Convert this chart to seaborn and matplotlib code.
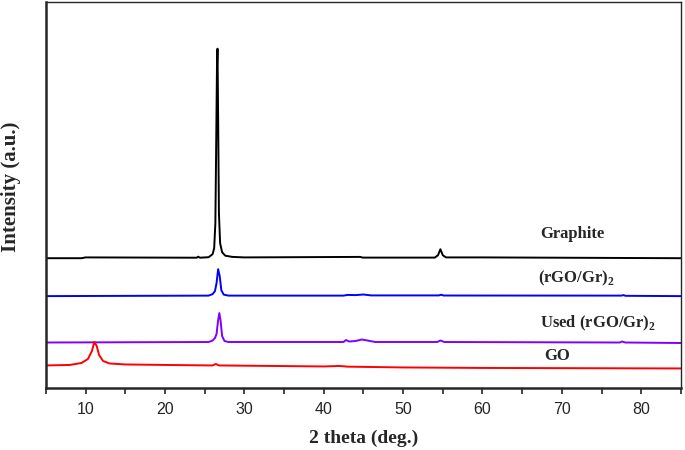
import pandas as pd
import numpy as np
import matplotlib
matplotlib.use("Agg")
import matplotlib.pyplot as plt
import seaborn as sns
from matplotlib.ticker import MultipleLocator

# XRD traces, points (intensity already stacked, arb. units)
graphite_x = [5, 9.5, 10, 24, 24.2, 24.4, 25.5, 26.0, 26.2, 26.35, 26.45, 26.55, 26.62,
              26.7, 26.8, 26.95, 27.2, 27.6, 28.5, 30, 44.6, 44.9, 54.0, 54.4, 54.7,
              55.0, 55.4, 60, 85]
graphite_y = [130, 130, 130.8, 130.5, 131.5, 130.5, 131, 134, 140, 165, 240, 320, 340,
              270, 175, 145, 136, 132.5, 131.3, 130.8, 131.3, 130.6, 130.6, 133, 139,
              133, 130.8, 130.8, 130]

blue_x = [5, 25.5, 26.0, 26.3, 26.5, 26.7, 26.9, 27.1, 27.4, 28, 42.5, 43, 44, 45, 46,
          54.5, 54.8, 55.1, 77.5, 77.8, 78, 85]
blue_y = [92, 92.5, 94, 97, 105, 119, 112, 98, 93.5, 92.5, 92.5, 93.2, 93, 93.6, 92.7,
          92.7, 93.4, 92.6, 92.5, 93, 92.3, 92]

used_x = [5, 25.5, 26.0, 26.3, 26.5, 26.7, 26.85, 27.0, 27.2, 27.5, 28, 42.5, 42.8,
          43.2, 44, 44.8, 45.5, 46.5, 54.3, 54.7, 55.2, 77.3, 77.6, 78, 85]
used_y = [45.5, 46, 47.5, 50, 54, 68, 75, 68, 52, 47, 46, 46, 48, 46.5, 47, 48.5, 47.5,
          46, 46, 47.5, 46, 45.5, 46.5, 45.5, 45]

go_x = [5, 8, 9.5, 10.3, 10.8, 11.1, 11.4, 11.7, 12.2, 13, 15, 20, 26, 26.4, 26.8, 40,
        42, 43, 50, 60, 85]
go_y = [22.5, 23, 25, 29, 37, 46, 42, 33, 27, 24.5, 23.5, 23, 22.5, 24, 22.5, 21.5, 22,
        21.3, 20.5, 20, 19.5]

names = ["Graphite", "(rGO/Gr)$_\\mathbf{2}$", "Used (rGO/Gr)$_\\mathbf{2}$", "GO"]
colors = ["#000000", "#0000ff", "#8000ff", "#ff0000"]
label_x = [71.3, 71.8, 74.6, 69.4]
label_y = [154, 110, 65, 32]

sns.set_style("ticks")
plt.rcParams["font.family"] = ["Liberation Sans", "DejaVu Sans"]
plt.rcParams["mathtext.fontset"] = "custom"
plt.rcParams["mathtext.bf"] = "Liberation Serif:bold"
plt.rcParams["mathtext.rm"] = "Liberation Serif"

fig = plt.figure(figsize=(6.85, 4.5), dpi=100)
ax = fig.add_axes([0.067, 0.138, 0.927, 0.858])

traces = [(graphite_x, graphite_y), (blue_x, blue_y), (used_x, used_y), (go_x, go_y)]
for (xs, ys), c in zip(traces, colors):
    sns.lineplot(x=xs, y=ys, color=c, linewidth=1.4, ax=ax, sort=False)

for name, lx, ly in zip(names, label_x, label_y):
    ax.text(lx, ly, name, ha="center", va="center", fontsize=12,
            fontweight="bold", family="Liberation Serif")

ax.set_xlim(5, 85)
ax.set_ylim(0, 387)
ax.xaxis.set_major_locator(MultipleLocator(10))
ax.xaxis.set_minor_locator(MultipleLocator(5))
ax.set_yticks([])
ax.tick_params(axis="x", which="both", direction="out", length=4, width=1.2,
               labelsize=11.5, pad=6)
for side in ["left", "bottom"]:
    ax.spines[side].set_linewidth(1.8)
for side in ["top", "right"]:
    ax.spines[side].set_linewidth(1.0)

ax.set_xlabel("2 theta (deg.)", fontsize=14, fontweight="bold",
              family="Liberation Serif", labelpad=9)
ax.set_ylabel("Intensity (a.u.)", fontsize=15, fontweight="bold",
              family="Liberation Serif")
ax.yaxis.set_label_coords(-0.039, 0.52)

fig.savefig("out.png", dpi=100)
